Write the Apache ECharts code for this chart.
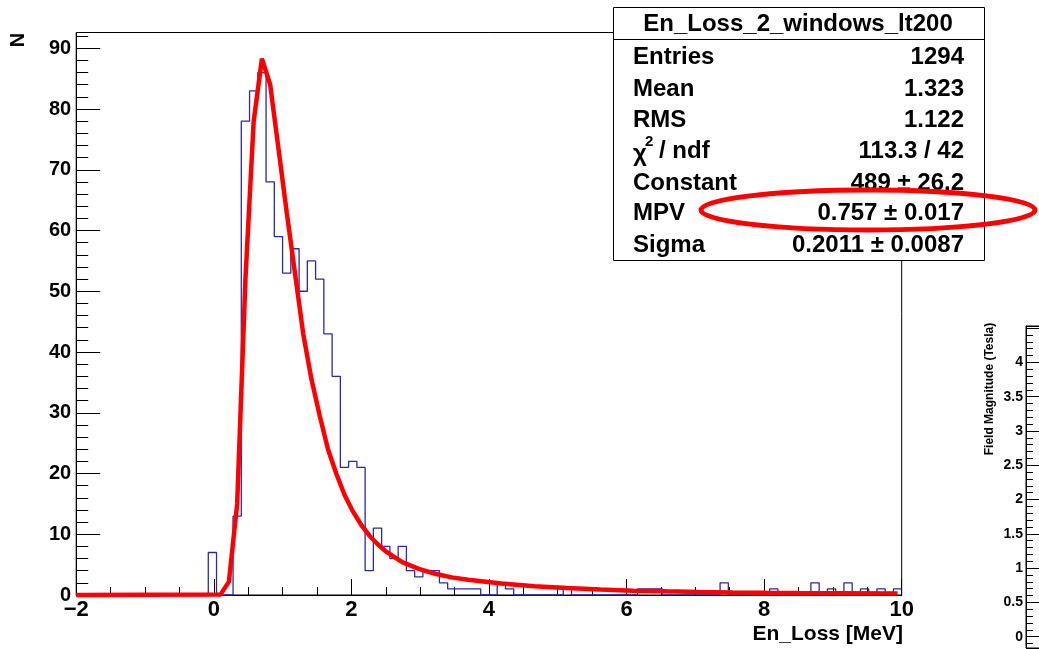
<!DOCTYPE html>
<html>
<head>
<meta charset="utf-8">
<script src="https://cdn.jsdelivr.net/npm/echarts@6/dist/echarts.min.js"></script>
<style>
html,body{margin:0;padding:0;background:#fff;}
#chart{width:1039px;height:649px;}
</style>
</head>
<body>
<div id="chart"></div>
<script>
// ---- Data ----
const binLow = -2;
const binWidth = 0.12;
const counts = [
  0,0,0,0,0,0,0,0,0,0,
  0,0,0,0,0,0,7,0,0,13,
  78,83,86,68,59,53,57,50,55,52,
  43,36,21,22,21,4,11,8,6,8,
  4,3,4,4,2,1,1,1,1,0,
  0,2,1,0,0,0,0,0,0,1,
  0,0,0,0,0,0,0,0,1,1,
  1,0,0,0,0,0,0,0,2,0,
  0,0,0,0,1,0,0,0,0,2,
  0,1,0,2,0,1,0,1,0,1
];
const fitX = [-2, 0.10, 0.22, 0.34, 0.46, 0.58, 0.70, 0.82, 0.94, 1.06, 1.18, 1.30, 1.42, 1.54, 1.66, 1.78, 1.90, 2.02, 2.14, 2.26, 2.38, 2.50, 2.74, 2.98, 3.22, 3.46, 3.70, 4.18, 4.66, 5.14, 5.62, 6.10, 6.58, 7.06, 7.54, 8.02, 8.50, 9.10, 9.94];
const fitY = [0, 0.1, 2.2, 15, 52, 78, 88.3, 84, 73.5, 63, 53, 43, 35.5, 29.5, 24, 20, 16.5, 13.8, 11.6, 9.8, 8.4, 7.2, 5.4, 4.3, 3.5, 2.9, 2.5, 1.9, 1.45, 1.15, 0.9, 0.72, 0.6, 0.5, 0.43, 0.37, 0.32, 0.28, 0.23];
const statsTitle = 'En_Loss_2_windows_lt200';
const statNames = ['Entries', 'Mean', 'RMS', null, 'Constant', 'MPV', 'Sigma'];
const statValues = ['1294', '1.323', '1.122', '113.3 / 42', '489 \u00b1 26.2', '0.757 \u00b1 0.017', '0.2011 \u00b1 0.0087'];
const xTitle = 'En_Loss [MeV]';
const yTitle = 'N';
const rightTitle = 'Field Magnitude (Tesla)';

// ---- Build ----
const histPts = counts.map((c, k) => [+(binLow + k * binWidth).toFixed(2), c]);
histPts.push([+(binLow + counts.length * binWidth).toFixed(2), counts[counts.length - 1]]);
const fitPts = fitX.map((x, i) => [x, fitY[i]]);

const FONT = 'Liberation Sans, Arial, sans-serif';
const chart = echarts.init(document.getElementById('chart'), null, {renderer: 'canvas'});

const rowY = [57, 89, 120, 151, 183, 213, 245];
const graphics = [
  {type: 'rect', z: 100, shape: {x: 613.5, y: 7.5, width: 371, height: 253}, style: {fill: '#fff', stroke: '#000', lineWidth: 1}},
  {type: 'line', z: 101, shape: {x1: 613.5, y1: 39.5, x2: 984.5, y2: 39.5}, style: {stroke: '#000', lineWidth: 1}},
  {type: 'text', z: 102, x: 798, y: 24, style: {text: statsTitle, fontFamily: FONT, fontWeight: 'bold', fontSize: 24, fill: '#000', align: 'center', verticalAlign: 'middle'}}
];
statNames.forEach((n, i) => {
  if (n) {
    graphics.push({type: 'text', z: 102, x: 633, y: rowY[i], style: {text: n, fontFamily: FONT, fontWeight: 'bold', fontSize: 24, fill: '#000', align: 'left', verticalAlign: 'middle'}});
  } else {
    graphics.push({type: 'text', z: 102, x: 633, y: rowY[i] + 3, style: {text: '\u03c7', fontFamily: FONT, fontWeight: 'bold', fontSize: 24, fill: '#000', align: 'left', verticalAlign: 'middle'}});
    graphics.push({type: 'text', z: 102, x: 645, y: rowY[i] - 9, style: {text: '2', fontFamily: FONT, fontWeight: 'bold', fontSize: 15, fill: '#000', align: 'left', verticalAlign: 'middle'}});
    graphics.push({type: 'text', z: 102, x: 659, y: rowY[i], style: {text: '/ ndf', fontFamily: FONT, fontWeight: 'bold', fontSize: 24, fill: '#000', align: 'left', verticalAlign: 'middle'}});
  }
  graphics.push({type: 'text', z: 102, x: 964, y: rowY[i], style: {text: statValues[i], fontFamily: FONT, fontWeight: 'bold', fontSize: 24, fill: '#000', align: 'right', verticalAlign: 'middle'}});
});
graphics.push({type: 'ellipse', z: 110, shape: {cx: 868, cy: 210, rx: 167, ry: 20}, style: {fill: 'none', stroke: '#ff0000', lineWidth: 5}});
graphics.push({type: 'text', z: 50, x: 903, y: 634, style: {text: xTitle, fontFamily: FONT, fontWeight: 'bold', fontSize: 21, fill: '#000', align: 'right', verticalAlign: 'middle'}});
graphics.push({type: 'text', z: 50, x: 18, y: 40, rotation: Math.PI / 2, style: {text: yTitle, fontFamily: FONT, fontWeight: 'bold', fontSize: 20, fill: '#000', align: 'center', verticalAlign: 'middle'}});
graphics.push({type: 'text', z: 50, x: 990, y: 389, rotation: Math.PI / 2, style: {text: rightTitle, fontFamily: FONT, fontWeight: 'bold', fontSize: 12, fill: '#000', align: 'center', verticalAlign: 'middle'}});

const option = {
  animation: false,
  backgroundColor: '#fff',
  grid: [
    {left: 76.2, top: 32.5, width: 825.5, height: 562.5, show: true, borderColor: '#000', borderWidth: 1, backgroundColor: 'transparent'},
    {left: 1026, top: 326, width: 100, height: 322, show: true, borderColor: '#000', borderWidth: 1, backgroundColor: 'transparent'}
  ],
  xAxis: [
    {
      gridIndex: 0, type: 'value', min: -2, max: 10, interval: 2,
      axisLine: {show: true, onZero: false, lineStyle: {color: '#000', width: 1}},
      axisTick: {show: true, inside: true, length: 16, lineStyle: {color: '#000', width: 1}},
      minorTick: {show: true, splitNumber: 4, length: 8, lineStyle: {color: '#000', width: 1}},
      axisLabel: {margin: 4, color: '#000', fontFamily: FONT, fontWeight: 'bold', fontSize: 22,
        formatter: v => (v < 0 ? '\u2212' + Math.abs(v) : String(v))},
      splitLine: {show: false}
    },
    {gridIndex: 1, type: 'value', min: 0, max: 1, show: false}
  ],
  yAxis: [
    {
      gridIndex: 0, type: 'value', min: 0, max: 92.6, interval: 10,
      axisLine: {show: true, onZero: false, lineStyle: {color: '#000', width: 1}},
      axisTick: {show: true, inside: true, length: 24, lineStyle: {color: '#000', width: 1}},
      minorTick: {show: true, splitNumber: 5, length: 12, lineStyle: {color: '#000', width: 1}},
      axisLabel: {margin: 5, color: '#000', fontFamily: FONT, fontWeight: 'bold', fontSize: 20, showMaxLabel: false},
      splitLine: {show: false}
    },
    {
      gridIndex: 1, type: 'value', min: -0.164, max: 4.53, splitNumber: 10,
      axisLine: {show: true, onZero: false, lineStyle: {color: '#000', width: 1}},
      axisTick: {show: true, inside: true, length: 13, lineStyle: {color: '#000', width: 1}},
      minorTick: {show: true, splitNumber: 5, length: 7, lineStyle: {color: '#000', width: 1}},
      axisLabel: {margin: 3, color: '#000', fontFamily: FONT, fontWeight: 'bold', fontSize: 14,
        showMaxLabel: false, showMinLabel: false,
        formatter: v => (v > 4.45 || v < 0 ? '' : String(v))},
      splitLine: {show: false}
    }
  ],
  series: [
    {
      type: 'line', xAxisIndex: 0, yAxisIndex: 0, data: histPts, step: 'end',
      symbol: 'none', lineStyle: {color: '#2a2aa6', width: 1.3}, z: 3, silent: true
    },
    {
      type: 'line', xAxisIndex: 0, yAxisIndex: 0, data: fitPts, smooth: false,
      symbol: 'none', clip: false, lineStyle: {color: '#ff0000', width: 4.5}, z: 4, silent: true
    }
  ],
  graphic: graphics
};
chart.setOption(option);
</script>
</body>
</html>
